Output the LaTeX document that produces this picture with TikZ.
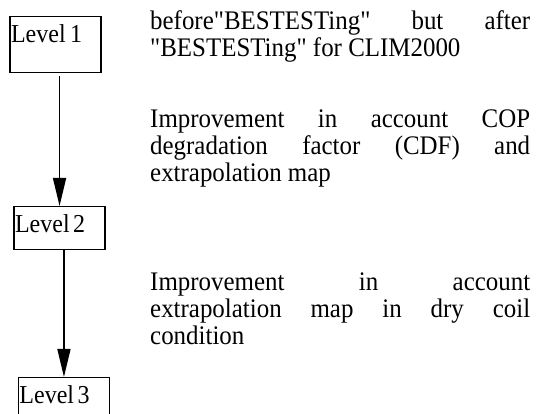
\documentclass[tikz,border=0pt]{standalone}
\usepackage{fontspec}
\setmainfont{Liberation Serif}[Ligatures=TeXOff, FakeStretch=0.93]
\usetikzlibrary{arrows.meta}

\begin{document}
\begin{tikzpicture}[x=1pt,y=-1pt,
  levelbox/.style={draw, line width=1.5pt, anchor=north west,
    inner xsep=1pt, inner ysep=0pt, text width=89pt, align=left,
    text height=26pt, font=\fontsize{25.8}{27}\selectfont},
  note/.style={anchor=base west, inner sep=0pt, text width=380pt,
    align=justify, font=\fontsize{26.8}{27}\selectfont},
  flow/.style={line width=1.5pt, -{Triangle[length=28pt,width=13pt]}}]
\useasboundingbox (0,0) rectangle (539,414);

% level boxes
\node[levelbox, text depth=30pt] (L1) at (9.3,16) {Level\hspace{4.5pt}1};
\node[levelbox, text depth=17pt] (L2) at (13.3,206) {Level\hspace{3.5pt}2};
\node[levelbox, text depth=22pt] (L3) at (17.7,377) {Level\hspace{3.5pt}3};

% flow between levels
\draw[flow, shorten <=3pt] (L1.south -| L2.north) -- (L2.north);
\draw[flow] (L2.south -| L3.north) -- (L3.north);

% descriptions
\node[note] (d1) at (150,30) {before"BESTESTing" but after\linebreak
  "BESTESTing" for CLIM2000};
\node[note] (d2) at (150,128) {Improvement in account COP\linebreak
  degradation factor (CDF) and\linebreak extrapolation map};
\node[note] (d3) at (150,291) {Improvement in account\linebreak
  extrapolation map in dry coil\linebreak condition};
\end{tikzpicture}
\end{document}
